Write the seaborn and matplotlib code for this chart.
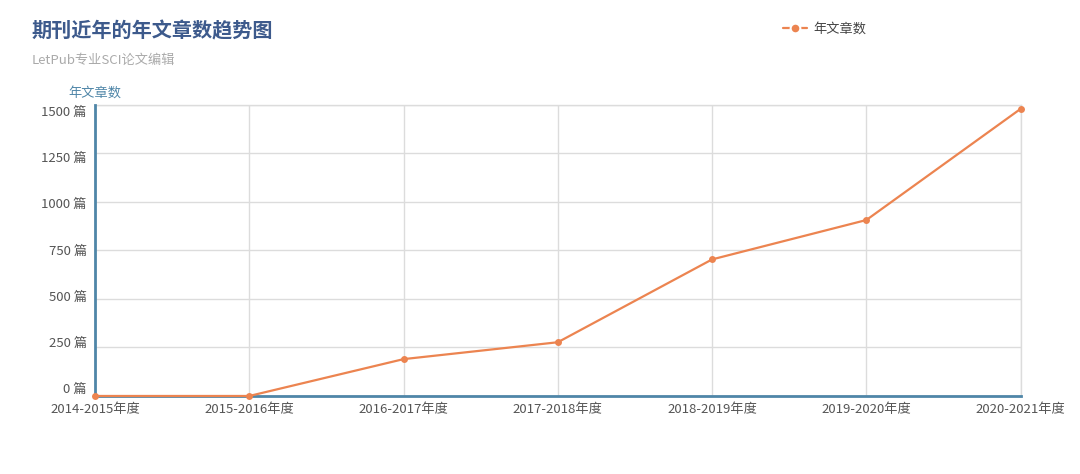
import pandas as pd
import seaborn as sns
import matplotlib.pyplot as plt
from matplotlib.transforms import ScaledTranslation

# data
seasons = [
    "2014-2015年度",
    "2015-2016年度",
    "2016-2017年度",
    "2017-2018年度",
    "2018-2019年度",
    "2019-2020年度",
    "2020-2021年度",
]
articles = [0, 0, 190, 277, 704, 907, 1480]
y_ticks = [0, 250, 500, 750, 1000, 1250, 1500]

sns.set_theme(style="whitegrid")
plt.rcParams["font.family"] = ["Noto Sans CJK SC", "DejaVu Sans"]

df = pd.DataFrame({"season": seasons, "年文章数": articles})

orange = "#ec8450"
axis_blue = "#4f86a8"
grid_grey = "#dcdcdc"

fig = plt.figure(figsize=(10.8, 4.74), dpi=100)
ax = fig.add_axes([0.088, 0.1646, 0.857, 0.6139])

sns.lineplot(
    data=df,
    x="season",
    y="年文章数",
    ax=ax,
    color=orange,
    linewidth=1.6,
    marker="o",
    markersize=5,
    markeredgewidth=0,
    label="年文章数",
    sort=False,
)
for line in ax.lines:
    line.set_clip_on(False)
    line.set_zorder(5)

ax.set_xlim(0, len(seasons) - 1)
ax.set_ylim(0, 1500)
ax.set_yticks(y_ticks)
ax.set_yticklabels([f"{v} 篇" for v in y_ticks])
ax.set_xlabel(None)
ax.set_ylabel(None)

ax.grid(True, color=grid_grey, linewidth=1)
ax.tick_params(axis="both", length=0, labelsize=9.5, colors="#555555", pad=6)
ax.tick_params(axis="x", pad=5)

# echarts squeezes the y labels a little toward the middle
n = len(y_ticks)
for i, lab in enumerate(ax.get_yticklabels()):
    dy = (-8 + 14 * i / (n - 1)) / 100.0
    lab.set_transform(lab.get_transform() + ScaledTranslation(0, -dy, fig.dpi_scale_trans))

for side in ["top", "right"]:
    ax.spines[side].set_visible(True)
    ax.spines[side].set_color(grid_grey)
    ax.spines[side].set_linewidth(1)
for side in ["left", "bottom"]:
    ax.spines[side].set_visible(True)
    ax.spines[side].set_color(axis_blue)
    ax.spines[side].set_linewidth(2)
    ax.spines[side].set_zorder(4)

leg = ax.legend(
    loc="center left",
    bbox_to_anchor=(0.731, 1.261),
    frameon=False,
    fontsize=9.5,
    handlelength=1.8,
    handletextpad=0.5,
)
for t in leg.get_texts():
    t.set_color("#444444")
for h in leg.legend_handles:
    h.set_markersize(7)
    h.set_markeredgecolor("white")
    h.set_markeredgewidth(1.5)

fig.text(0.029, 0.934, "期刊近年的年文章数趋势图", fontsize=14.5, fontweight="bold",
         color="#3d5a8c", va="center", ha="left")
fig.text(0.029, 0.873, "LetPub专业SCI论文编辑", fontsize=9.5, color="#aaaaaa",
         va="center", ha="left")
fig.text(0.063, 0.803, "年文章数", fontsize=9.5, color="#4f86a8",
         va="center", ha="left")

plt.savefig("out.png", dpi=100)
